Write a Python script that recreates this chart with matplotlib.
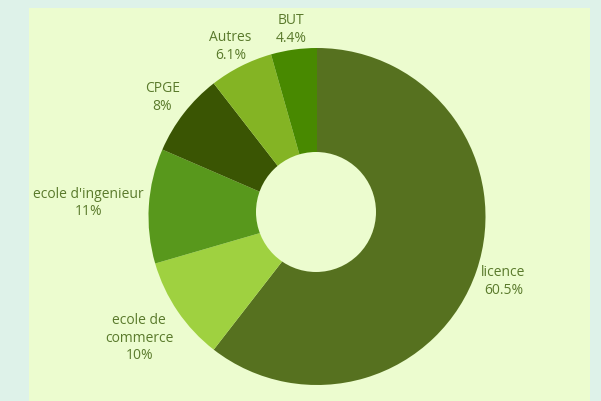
import numpy as np
import matplotlib.pyplot as plt
from matplotlib.patches import Rectangle, Circle

# parts des formations (sens horaire depuis midi)
labels = ["licence", "ecole de\ncommerce", "ecole d'ingenieur", "CPGE", "Autres", "BUT"]
valeurs = [60.5, 10, 11, 8, 6.1, 4.4]
textes = ["60.5%", "10%", "11%", "8%", "6.1%", "4.4%"]
couleurs = ["#56711f", "#9fd140", "#58981c", "#3a5503", "#84b424", "#488900"]

fond = "#def2e9"
panneau = "#ecfccf"
texte_col = "#5a7a2c"

plt.rcParams['font.family'] = ['Open Sans', 'DejaVu Sans']

W, H = 601, 402
fig = plt.figure(figsize=(W / 100, H / 100), dpi=100, facecolor=fond)
fig.patches.append(Rectangle((29 / W, 0), 561 / W, 393 / H, transform=fig.transFigure,
                             facecolor=panneau, edgecolor="none", zorder=0))

R = 168.5  # rayon en pixels
cx, cy = 317, 217.5
ax = fig.add_axes([0, 0, 1, 1])
ax.set_zorder(2)
ax.set_facecolor("none")
wedges, _ = ax.pie(valeurs, colors=couleurs, startangle=90, counterclock=False,
                   wedgeprops=dict(linewidth=0))
# trou central (legerement decale vers le haut comme dans l'original)
ax.add_patch(Circle((-1 / R, 4.5 / R), 60 / R, facecolor=panneau, edgecolor="none", zorder=5))

ax.set_xlim(-cx / R, (W - cx) / R)
ax.set_ylim(-(H - cy) / R, cy / R)
ax.set_aspect("auto")
ax.axis("off")

renderer = fig.canvas.get_renderer()
for w, lab, t in zip(wedges, labels, textes):
    ang = np.deg2rad((w.theta1 + w.theta2) / 2)
    c, s = np.cos(ang), np.sin(ang)
    x, y = 1.03 * c, 1.03 * s
    txt = ax.text(x, y, lab + "\n" + t, ha="center", va="center", multialignment="center",
                  fontsize=10, color=texte_col, linespacing=1.22)
    bb = txt.get_window_extent(renderer)
    hw, hh = bb.width / 2, bb.height / 2
    # on pousse la boite vers l'exterieur jusqu'a ce que son bord touche le point d'ancrage
    d = min(hw / max(abs(c), 1e-6), hh / max(abs(s), 1e-6))
    txt.set_position((x + d * c / R, y + d * s / R))

fig.savefig("out.png", dpi=100, facecolor=fond)
